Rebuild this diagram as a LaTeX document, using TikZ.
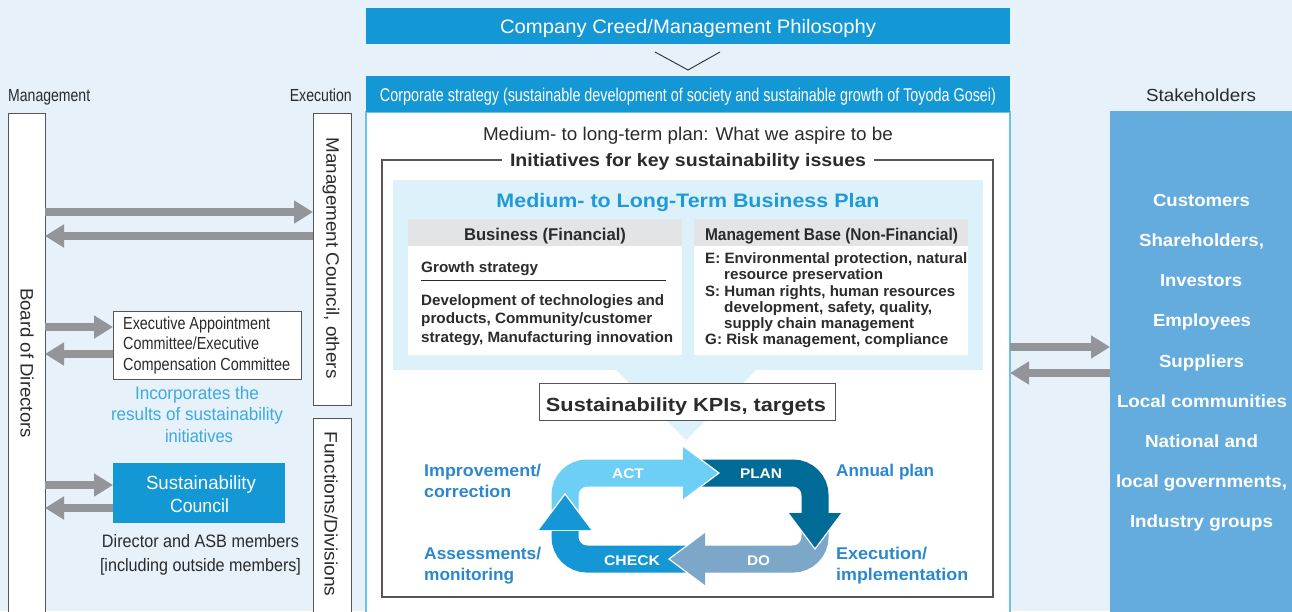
\documentclass[tikz,border=0pt]{standalone}
\usepackage{fontspec}
\setmainfont{Liberation Sans}
\usepackage{graphicx}
\usetikzlibrary{arrows.meta}
\definecolor{bg}{HTML}{E6F1FA}
\definecolor{creed}{HTML}{1497D5}
\definecolor{boxline}{HTML}{6FC0EA}
\definecolor{framegray}{HTML}{555555}
\definecolor{panel}{HTML}{DDF1FA}
\definecolor{hdrgray}{HTML}{E3E4E6}
\definecolor{dark}{HTML}{2B2B2B}
\definecolor{bpblue}{HTML}{1E9AD8}
\definecolor{stake}{HTML}{64ACDE}
\definecolor{agray}{HTML}{939598}
\definecolor{incblue}{HTML}{3DA9E0}
\definecolor{actc}{HTML}{6DCFF6}
\definecolor{planc}{HTML}{006B97}
\definecolor{doc}{HTML}{7DA7C8}
\definecolor{checkc}{HTML}{1597D5}
\definecolor{pdcablue}{HTML}{2C88CE}
\newcommand{\fw}[2]{\resizebox{#1}{\height}{#2}}
\begin{document}
\begin{tikzpicture}[x=1pt,y=-1pt,
  lbl/.style={inner sep=0pt, anchor=base, text=dark},
  lblw/.style={lbl, anchor=base west},
  rg/.style={font=\fontsize{#1}{#1}\selectfont},
  bd/.style={font=\fontsize{#1}{#1}\selectfont\bfseries},
  blk/.style={inner sep=0pt, outer sep=0pt, anchor=north west},
  wbox/.style={blk, draw=framegray, fill=white, line width=0.9pt},
  garrow/.style={draw=agray, line width=8pt, -{Triangle[length=19pt,width=22pt]}},
  band/.style={line width=27pt, rounded corners=22pt},
  headedge/.style={draw=white, line width=1.2pt, line join=miter},
]
\fill[bg] (0,0) rectangle (1292,611);
\useasboundingbox (0,0) rectangle (1292,611);

% ---- top
\node[blk, fill=creed, minimum width=644pt, minimum height=36pt] (creed) at (366,8) {};
\node[lbl, rg=19.5, text=white] (creedtxt) at (688,33) {\fw{376pt}{Company Creed/Management Philosophy}};
\coordinate (chevL) at (655,52);
\coordinate (chevB) at (688,70);
\coordinate (chevR) at (720,52);
\draw[line width=0.9pt, dark] (chevL) -- (chevB) -- (chevR);

% ---- main box
\node[blk, draw=boxline, fill=white, line width=1.2pt, minimum width=644pt, minimum height=520pt] (mainbox) at (366,112) {};
\node[blk, fill=creed, minimum width=644pt, minimum height=36pt] (corp) at (366,76) {};
\node[lbl, rg=18.5, text=white] (corptxt) at (688,101) {\fw{616pt}{Corporate strategy (sustainable development of society and sustainable growth of Toyoda Gosei)}};
\node[lbl, rg=18.5] (aspire) at (688,140) {\fw{410pt}{Medium- to long-term plan: What we aspire to be}};

\node[blk, draw=framegray, line width=1.1pt, minimum width=611pt, minimum height=437pt] (frame) at (382,160) {};
\node[lbl, bd=18, fill=white, inner xsep=8pt] (initxt) at (688,166) {\fw{356pt}{Initiatives for key sustainability issues}};

\node[blk, fill=panel, minimum width=590pt, minimum height=190pt] (panel) at (393,180) {};
\fill[panel] (615,369) -- (757,369) -- (686,440) -- cycle;
\node[lbl, bd=19.5, text=bpblue] (bptitle) at (688,207) {\fw{383pt}{Medium- to Long-Term Business Plan}};

\node[blk, fill=hdrgray, minimum width=274pt, minimum height=27pt] (bizhdr) at (408,219) {};
\node[blk, fill=white, minimum width=274pt, minimum height=109pt] (bizbody) at (408,246) {};
\node[blk, fill=hdrgray, minimum width=274pt, minimum height=27pt] (mgthdr) at (694,219) {};
\node[blk, fill=white, minimum width=274pt, minimum height=109pt] (mgtbody) at (694,246) {};
\node[lbl, bd=17] (bizhtxt) at (545,240) {\fw{162pt}{Business (Financial)}};
\node[lbl, bd=17] (mgthtxt) at (831.5,240) {\fw{253pt}{Management Base (Non-Financial)}};

\node[lblw, bd=15] (growth) at (421,272) {\fw{117pt}{Growth strategy}};
\coordinate (gl1) at (421,280);
\coordinate (gl2) at (666,280);
\draw[line width=1pt, dark] (gl1) -- (gl2);
\node[lblw, bd=15] (dev1) at (421,305) {\fw{243pt}{Development of technologies and}};
\node[lblw, bd=15] (dev2) at (421,323) {\fw{231pt}{products, Community/customer}};
\node[lblw, bd=15] (dev3) at (421,342) {\fw{252pt}{strategy, Manufacturing innovation}};

\node[lblw, bd=15] (e1) at (705,263) {\fw{262pt}{E: Environmental protection, natural}};
\node[lblw, bd=15] (e2) at (724,279) {\fw{159pt}{resource preservation}};
\node[lblw, bd=15] (s1) at (705,296) {\fw{250pt}{S: Human rights, human resources}};
\node[lblw, bd=15] (s2) at (724,312) {\fw{208pt}{development, safety, quality,}};
\node[lblw, bd=15] (s3) at (724,328) {\fw{190pt}{supply chain management}};
\node[lblw, bd=15] (g1) at (705,344) {\fw{243pt}{G: Risk management, compliance}};

\node[wbox, minimum width=296pt, minimum height=37pt] (kpi) at (539,383) {};
\node[lbl, bd=19] (kpitxt) at (686,411) {\fw{280pt}{Sustainability KPIs, targets}};

% ---- PDCA
\draw[band, actc] (565,518) -- (565,473) -- (684,473);
\draw[band, planc] (698,473) -- (815,473) -- (815,514);
\draw[band, doc] (815,524) -- (815,559) -- (704,559);
\draw[band, checkc] (692,559) -- (565,559) -- (565,531);
\fill[actc] (683,446) -- (719,473) -- (683,500) -- cycle;
\draw[headedge] (683,446) -- (719,473) -- (683,500);
\fill[planc] (788,513) -- (815,549) -- (842,513) -- cycle;
\draw[headedge] (788,513) -- (815,549) -- (842,513);
\fill[doc] (705,532) -- (669,559) -- (705,586) -- cycle;
\draw[headedge] (705,532) -- (669,559) -- (705,586);
\fill[checkc] (538,530) -- (565,494) -- (592,530) -- cycle;
\draw[headedge] (538,530) -- (565,494) -- (592,530);
\node[lbl, bd=14, text=white] (act) at (628,478) {\fw{32pt}{ACT}};
\node[lbl, bd=14, text=white] (plan) at (761,478) {\fw{42pt}{PLAN}};
\node[lbl, bd=14, text=white] (check) at (632,565) {\fw{56pt}{CHECK}};
\node[lbl, bd=14, text=white] (do) at (758.5,565) {\fw{23pt}{DO}};

\node[lblw, bd=17, text=pdcablue] (imp1) at (424,476) {\fw{117pt}{Improvement/}};
\node[lblw, bd=17, text=pdcablue] (imp2) at (424,497) {\fw{87pt}{correction}};
\node[lblw, bd=17, text=pdcablue] (ann) at (836,476) {\fw{98pt}{Annual plan}};
\node[lblw, bd=17, text=pdcablue] (ass1) at (424,559) {\fw{117pt}{Assessments/}};
\node[lblw, bd=17, text=pdcablue] (ass2) at (424,580) {\fw{90pt}{monitoring}};
\node[lblw, bd=17, text=pdcablue] (exe1) at (836,559) {\fw{91pt}{Execution/}};
\node[lblw, bd=17, text=pdcablue] (exe2) at (836,580) {\fw{132pt}{implementation}};

% ---- left side
\node[lblw, rg=17.5] (mgmt) at (8,101) {\fw{82pt}{Management}};
\node[lbl, rg=17.5, anchor=base east] (exec) at (352,101) {\fw{62pt}{Execution}};
\node[wbox, minimum width=37pt, minimum height=520pt] (board) at (8,113) {};
\node[wbox, minimum width=38pt, minimum height=292pt] (mc) at (313,113) {};
\node[wbox, minimum width=38pt, minimum height=215pt] (fd) at (313,418) {};
\node[inner sep=0pt, rg=18, text=dark, rotate=-90] (boardtxt) at (27,363) {\fw{150pt}{Board of Directors}};
\node[inner sep=0pt, rg=18, text=dark, rotate=-90] (mctxt) at (331,258) {\fw{241pt}{Management Council, others}};
\node[inner sep=0pt, rg=18, text=dark, rotate=-90] (fdtxt) at (331,514) {\fw{165pt}{Functions/Divisions}};

\node[wbox, minimum width=188pt, minimum height=68pt] (eac) at (113,311) {};
\node[lblw, rg=17.5] (eac1) at (123,329) {\fw{147pt}{Executive Appointment}};
\node[lblw, rg=17.5] (eac2) at (123,349) {\fw{136pt}{Committee/Executive}};
\node[lblw, rg=17.5] (eac3) at (123,370) {\fw{167pt}{Compensation Committee}};

\node[lbl, rg=18, text=incblue] (inc1) at (197,399) {\fw{124pt}{Incorporates the}};
\node[lbl, rg=18, text=incblue] (inc2) at (197,420) {\fw{172pt}{results of sustainability}};
\node[lbl, rg=18, text=incblue] (inc3) at (199,442) {\fw{68pt}{initiatives}};

\node[blk, fill=creed, minimum width=172pt, minimum height=60pt] (sc) at (113,463) {};
\node[lbl, rg=19, text=white] (sc1) at (201,489) {\fw{110pt}{Sustainability}};
\node[lbl, rg=19, text=white] (sc2) at (199.5,512) {\fw{59pt}{Council}};
\node[lbl, rg=18] (dir1) at (200.5,547) {\fw{197pt}{Director and ASB members}};
\node[lbl, rg=18] (dir2) at (200.5,571) {\fw{201pt}{[including outside members]}};

\draw[garrow] (board.east |- 0,212) -- (mc.west |- 0,212);
\draw[garrow] (mc.west |- 0,236) -- (board.east |- 0,236);
\draw[garrow] (board.east |- 0,327) -- (eac.west |- 0,327);
\draw[garrow] (eac.west |- 0,354) -- (board.east |- 0,354);
\draw[garrow] (board.east |- 0,485) -- (sc.west |- 0,485);
\draw[garrow] (sc.west |- 0,508) -- (board.east |- 0,508);

% ---- right side
\node[lbl, rg=17.5] (stktitle) at (1201,101) {\fw{110pt}{Stakeholders}};
\node[blk, fill=stake, minimum width=190pt, minimum height=520pt] (stake) at (1110,111) {};
\node[lbl, bd=17.5, text=white] (st1) at (1201.5,206) {\fw{97pt}{Customers}};
\node[lbl, bd=17.5, text=white] (st2) at (1201.5,246) {\fw{125pt}{Shareholders,}};
\node[lbl, bd=17.5, text=white] (st3) at (1201,286) {\fw{82pt}{Investors}};
\node[lbl, bd=17.5, text=white] (st4) at (1202,326) {\fw{98pt}{Employees}};
\node[lbl, bd=17.5, text=white] (st5) at (1201.5,367) {\fw{85pt}{Suppliers}};
\node[lbl, bd=17.5, text=white] (st6) at (1202,407) {\fw{170pt}{Local communities}};
\node[lbl, bd=17.5, text=white] (st7) at (1201.5,447) {\fw{113pt}{National and}};
\node[lbl, bd=17.5, text=white] (st8) at (1201.5,487) {\fw{171pt}{local governments,}};
\node[lbl, bd=17.5, text=white] (st9) at (1201.5,527) {\fw{143pt}{Industry groups}};

\draw[garrow] (mainbox.east |- 0,347) -- (stake.west |- 0,347);
\draw[garrow] (stake.west |- 0,373) -- (mainbox.east |- 0,373);
\end{tikzpicture}
\end{document}
